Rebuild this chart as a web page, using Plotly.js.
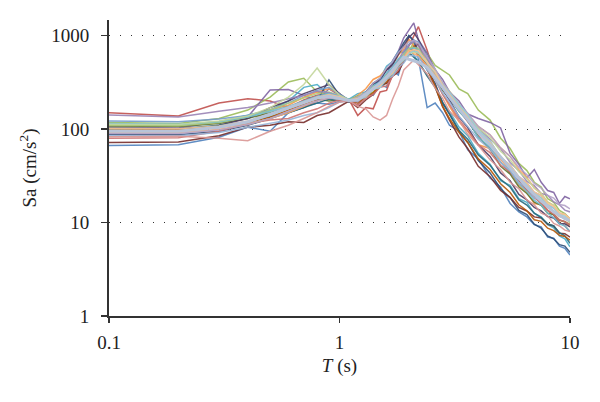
<!DOCTYPE html>
<html>
<head>
<meta charset="utf-8">
<script src="https://cdn.plot.ly/plotly-3.0.1.min.js"></script>
<style>
  body { margin: 0; background: #fff; }
  #chart { width: 600px; height: 402px; }
</style>
</head>
<body>
<div id="chart"></div>
<script>
// periods (s)
const periods = [0.1, 0.2, 0.3, 0.4, 0.5, 0.6, 0.7, 0.8, 0.9, 1.0,
  1.1, 1.2, 1.3, 1.4, 1.5, 1.6, 1.7, 1.8, 1.9, 2.0, 2.1, 2.2,
  2.4, 2.6, 2.8, 3.0, 3.3, 3.6, 4.0,
  4.5, 5.0, 5.5, 6.0, 6.5, 7.0, 7.5, 8.0, 8.5, 9.0, 9.5, 10];

// spectral accelerations, one record per line (cm/s2)
const sa01 = [67,68,82,105,95,150,175,190,185,195,205,215,250,230,300,280,420,380,600,1000,900,560,170,190,150,110,95,60,48,30,24,16,13,11.5,9.5,9,7,6.8,5.6,5.3,4.5];
const sa02 = [150,138,190,212,200,170,205,230,240,215,205,140,170,165,250,260,380,420,600,780,1000,1250,700,380,300,220,160,120,85,60,45,34,28,22,19,16,13.5,12,10,9.2,8];
const sa03 = [118,115,130,160,220,320,350,250,230,215,200,195,230,250,290,310,380,430,560,680,850,780,650,480,430,380,270,240,160,125,80,62,43,36,27,24,18,16.5,13.5,12.5,11];
const sa04 = [105,103,120,135,262,265,230,200,270,230,205,180,230,270,340,380,540,680,950,1150,1370,900,650,430,340,250,200,145,130,118,103,55,42,30,37,27,22,21,16,19,18];
const sa05 = [112,110,120,140,160,200,280,300,230,220,210,240,250,310,350,470,530,680,660,740,620,520,380,300,190,155,105,85,55,42,28,25,18,16.5,12.5,11.5,9.5,8.8,7.2,6.7,5.5];
const sa06 = [100,99,105,115,160,180,220,250,270,240,200,230,270,340,370,440,480,620,720,920,780,680,480,360,240,175,120,95,68,62,48,36,25,21,16,15.5,12.5,12.4,10.6,10.2,9];
const sa07 = [88,87,95,110,130,150,170,200,336,230,195,220,235,300,330,430,490,660,840,1000,880,680,430,310,190,145,95,72,46,34,23,18.5,13.5,12.2,9.6,8.7,7.2,6.7,5.8,5.6,4.8];
const sa08 = [72,73,85,105,110,120,118,140,150,175,200,170,205,235,290,310,370,410,530,640,760,820,470,290,175,125,82,62,40,31,22,18.5,14.5,13.3,11.5,11.2,9.6,9.2,7.7,7.6,7];
const sa09 = [108,107,115,130,150,170,190,210,200,205,205,225,235,280,290,350,390,490,550,660,690,630,470,370,260,215,155,125,82,62,40,33,24,20.5,16.5,15.3,12.6,12.2,10.6,10.2,9.5];
const sa10 = [95,94,110,130,170,200,240,270,300,240,200,215,245,310,340,430,490,630,770,960,1080,910,590,410,270,205,135,104,68,51,34,28,20,17.5,14.5,13.3,11.6,11.2,9.7,9.7,9];
const sa11 = [103,101,110,120,135,150,170,190,210,200,198,205,225,270,280,360,410,510,590,660,590,530,370,280,195,145,97,78,53,41,29,24,17.5,15.4,12.6,11.3,9.7,9.2,7.8,7.2,6];
const sa12 = [98,97,104,118,135,160,185,210,225,215,205,190,220,245,300,320,400,460,570,670,770,690,440,290,175,130,92,72,48,37,26,21,15.5,13.4,10.7,10.3,8.7,8.2,7.3,7.1,6.5];
const sa13 = [122,120,128,140,160,190,230,260,280,240,205,220,245,290,300,370,420,530,640,810,890,860,590,430,290,225,165,133,92,72,50,41,31,26.5,21,19.5,15.5,14.3,12.6,12.2,11];
const sa14 = [80,81,95,115,125,130,150,165,190,205,200,180,215,235,280,290,370,430,550,630,710,610,440,340,235,185,126,97,68,56,41,35,26,22.5,18.4,16.4,13.6,12.3,10.7,10.2,9.5];
const sa15 = [110,109,118,135,160,190,215,240,250,230,205,225,245,290,310,390,440,550,630,730,750,730,550,430,310,255,185,143,97,74,50,41,30,25.5,20.4,18.4,14.6,13.3,11.6,11.2,10];
const sa16 = [142,135,155,170,190,210,230,255,245,225,205,195,235,265,330,370,470,550,690,790,860,770,570,390,295,215,175,127,103,78,62,44,36,27.5,24.8,20.5,19.6,16.6,15.5,13.6,13];
const sa17 = [115,113,120,135,155,175,200,225,240,225,208,210,235,290,320,400,460,570,610,710,740,700,510,390,275,215,155,123,82,64,44,36,26,21.5,17.4,15.4,12.6,11.3,9.7,9.2,8];
const sa18 = [92,92,100,112,130,150,175,200,215,215,202,215,230,280,300,370,410,510,590,710,640,610,470,380,285,235,175,143,107,87,63,51,37,30.5,23.4,20.4,16.6,15.3,12.6,12.2,11];
const sa19 = [85,85,92,105,115,125,140,150,170,195,200,215,230,270,280,340,370,460,510,610,610,590,430,340,245,195,137,107,78,61,44,36,27,23.5,18.5,17.3,14.6,13.3,11.7,11.2,10.5];
const sa20 = [83,84,80,75,95,110,130,150,175,195,200,175,165,135,125,140,210,290,430,490,550,490,390,275,215,155,124,88,67,47,37,27,23,17.5,15.5,12.6,11.8,9.8,9.2,8.3,8];
const sa21 = [113,112,122,138,170,220,300,450,300,230,205,215,235,280,290,360,400,490,550,650,670,650,510,410,300,245,175,143,102,82,58,47,35,29.5,23.3,20.4,16.5,15.3,12.6,12.2,11];
const sa22 = [90,90,98,112,130,155,180,200,215,210,202,220,245,310,350,450,530,660,750,860,890,830,590,440,315,255,185,148,107,87,63,51,39,32.5,26.2,23.4,19.5,18.3,15.6,15.2,14];
const sa23 = [97,96,104,118,140,165,190,215,230,220,204,205,220,265,280,350,390,490,550,650,690,670,510,410,300,245,180,143,97,74,50,41,30,25.5,20.4,18.4,15.5,14.3,12.1,11.7,10.5];
const sa24 = [102,101,108,122,145,170,195,220,235,222,203,213,227,272,290,355,400,500,570,680,710,690,520,410,295,235,170,133,92,72,50,41,31,26.5,21.3,19.4,16,14.8,12.6,12.2,11];
const saMean = [95,95,105,120,145,170,195,215,225,215,203,205,235,270,310,360,430,510,590,560,540,520,460,360,280,220,165,125,92,68,50,38,30,24,20,17,15,13,12,11,10.5];

const records = [sa01, sa02, sa03, sa04, sa05, sa06, sa07, sa08, sa09, sa10, sa11, sa12,
  sa13, sa14, sa15, sa16, sa17, sa18, sa19, sa20, sa21, sa22, sa23, sa24];

const palette = ['#4F81BD','#C0504D','#9BBB59','#8064A2','#4BACC6','#F79646',
  '#2C4D75','#772C2A','#5F7530','#4D3B62','#276A7C','#B65708',
  '#729ACA','#CD7371','#AFC97A','#9983B5','#6FBDD1','#F9AB6B',
  '#95B3D7','#D99694','#C3D69B','#B3A2C7','#93CDDD','#FAC090'];

const yTicks = [1, 10, 100, 1000];
const xTicks = [0.1, 1, 10];

const traces = records.map((r, i) => ({
  x: periods,
  y: r,
  type: 'scatter',
  mode: 'lines',
  line: { color: palette[i], width: 1.5 },
  opacity: 0.9
}));

// average spectrum, thick light line on top
traces.push({
  x: periods,
  y: saMean,
  type: 'scatter',
  mode: 'lines',
  line: { color: '#B7C3D8', width: 3 }
});

const font = "'Liberation Serif', serif";
const ink = '#222';

const layout = {
  width: 600,
  height: 402,
  margin: { l: 109, r: 30, t: 20, b: 86 },
  paper_bgcolor: '#fff',
  plot_bgcolor: '#fff',
  showlegend: false,
  hovermode: false,
  font: { family: font, size: 19, color: ink },
  xaxis: {
    type: 'log',
    range: [-1, 1],
    tickvals: xTicks,
    ticktext: xTicks.map(String),
    tickfont: { family: font, size: 19, color: ink },
    showgrid: false,
    zeroline: false,
    showline: true,
    linecolor: '#333',
    linewidth: 2,
    ticks: 'outside',
    ticklen: 5,
    tickwidth: 1.5,
    tickcolor: '#333',
    ticklabelstandoff: 3,
    title: { text: '<i>T</i> (s)', font: { family: font, size: 19, color: ink }, standoff: 7 }
  },
  yaxis: {
    type: 'log',
    range: [0, 3.168],
    tickvals: yTicks,
    ticktext: yTicks.map(String),
    tickfont: { family: font, size: 19, color: ink },
    showgrid: true,
    gridcolor: '#333',
    gridwidth: 1,
    griddash: '1px,10px',
    zeroline: false,
    showline: true,
    linecolor: '#333',
    linewidth: 2,
    ticks: 'outside',
    ticklen: 6,
    tickwidth: 1.5,
    tickcolor: '#333',
    ticklabelstandoff: 8,
    title: { text: 'Sa (cm/s<sup>2</sup>)', font: { family: font, size: 19, color: ink }, standoff: 10 }
  }
};

Plotly.newPlot('chart', traces, layout, { staticPlot: true, displayModeBar: false });
</script>
</body>
</html>
